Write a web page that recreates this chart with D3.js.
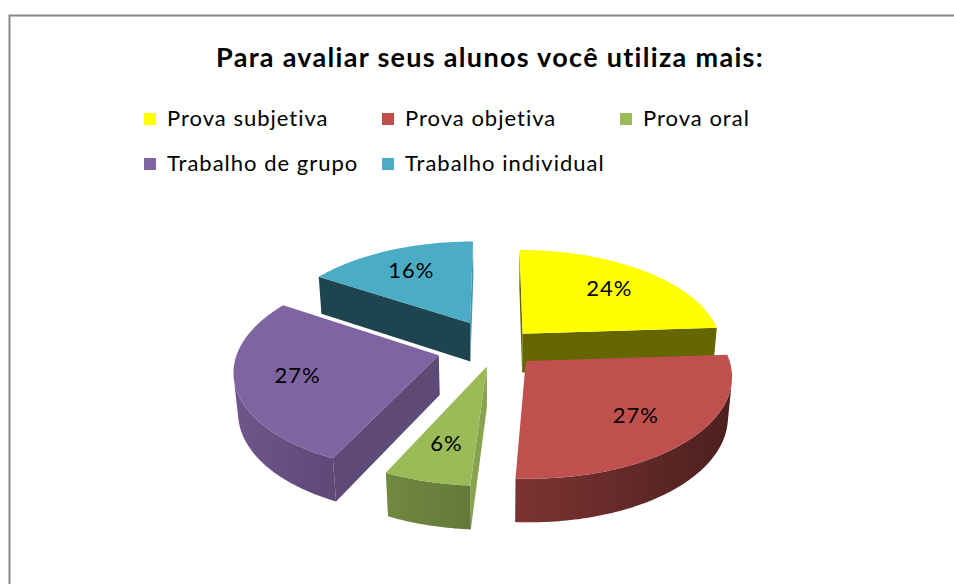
<!DOCTYPE html>
<html>
<head>
<meta charset="utf-8">
<script src="https://cdn.jsdelivr.net/npm/d3@7"></script>
<style>
  body { margin: 0; background: #fff; }
  svg { display: block; font-family: Lato, 'Open Sans', sans-serif; font-variant-ligatures: none; }
</style>
</head>
<body>
<svg id="chart" width="954" height="584"></svg>
<script>
const title = 'Para avaliar seus alunos você utiliza mais:';
const categories = ['Prova subjetiva', 'Prova objetiva', 'Prova oral', 'Trabalho de grupo', 'Trabalho individual'];
const values = [24, 27, 6, 27, 16];
const colors = ['#FFFF00', '#C0504D', '#9BBB59', '#8064A2', '#4BACC6'];

// 3d pie setup (Excel style tilted, exploded pie)
const cx = 497, cy = 347;
const radius = 200, thickness = 46;
const tilt = Math.asin(0.49);
const camDist = 1325;
const explode = [38, 40, 40, 60, 58];
const labelPos = 0.7;

const sinT = Math.sin(tilt), cosT = Math.cos(tilt);
const svg = d3.select('#chart');
const defs = svg.append('defs');

// u: right, v: towards the back, h: up
function project(u, v, h) {
  const s = camDist / (camDist + v * cosT - h * sinT);
  return [cx + s * u, cy - s * (v * sinT + h * cosT)];
}

function shade(color, k) {
  const c = d3.rgb(color);
  return d3.rgb(c.r * k, c.g * k, c.b * k).formatHex();
}

// cut faces are lit from the right, the round wall gets darker to the right
function faceLight(phi) {
  const c = Math.max(0, Math.cos(phi - 80 * Math.PI / 180));
  return 0.4 + 0.5 * c * c;
}
function wallLight(theta) {
  return 0.63 - 0.24 * Math.sin(theta);
}

function facing(nu, nv, pu, pv) {
  const camV = -camDist * cosT;
  return nu * (0 - pu) + nv * (camV - pv) > 0;
}

const pie = d3.pie().sort(null).value(d => d);
const line = d3.line();

const slices = pie(values).map((a, i) => {
  const mid = (a.startAngle + a.endAngle) / 2;
  const ou = explode[i] * Math.sin(mid);
  const ov = explode[i] * Math.cos(mid);
  const n = Math.max(2, Math.ceil((a.endAngle - a.startAngle) / (Math.PI / 180)));
  const angles = d3.range(n + 1).map(k => a.startAngle + (a.endAngle - a.startAngle) * k / n);
  const depth = ov + 0.6 * radius * Math.cos(mid);
  return { i, a, mid, ou, ov, angles, depth };
});

function rim(s, t, h) {
  return project(s.ou + radius * Math.sin(t), s.ov + radius * Math.cos(t), h);
}

function drawCut(g, s, t, phi) {
  const nu = Math.sin(phi), nv = Math.cos(phi);
  const pu = s.ou + radius / 2 * Math.sin(t), pv = s.ov + radius / 2 * Math.cos(t);
  if (!facing(nu, nv, pu, pv)) return;
  const pts = [
    project(s.ou, s.ov, 0), rim(s, t, 0),
    rim(s, t, -thickness), project(s.ou, s.ov, -thickness)
  ];
  g.append('path')
    .attr('d', line(pts) + 'Z')
    .attr('fill', shade(colors[s.i], faceLight(phi)));
}

function drawWall(g, s) {
  const vis = s.angles.filter(t => facing(Math.sin(t), Math.cos(t),
    s.ou + radius * Math.sin(t), s.ov + radius * Math.cos(t)));
  if (vis.length < 2) return;
  const top = vis.map(t => rim(s, t, 0));
  const bottom = vis.map(t => rim(s, t, -thickness)).reverse();
  const xs = top.map(p => p[0]);
  const iMin = d3.minIndex(xs), iMax = d3.maxIndex(xs);
  const id = 'wall' + s.i;
  const grad = defs.append('linearGradient')
    .attr('id', id)
    .attr('gradientUnits', 'userSpaceOnUse')
    .attr('x1', xs[iMin]).attr('x2', xs[iMax])
    .attr('y1', 0).attr('y2', 0);
  grad.append('stop').attr('offset', 0).attr('stop-color', shade(colors[s.i], wallLight(vis[iMin])));
  grad.append('stop').attr('offset', 1).attr('stop-color', shade(colors[s.i], wallLight(vis[iMax])));
  g.append('path')
    .attr('d', line(top.concat(bottom)) + 'Z')
    .attr('fill', `url(#${id})`);
}

const pieG = svg.append('g');
slices.slice().sort((p, q) => q.depth - p.depth).forEach(s => {
  const g = pieG.append('g');
  drawCut(g, s, s.a.startAngle, s.a.startAngle - Math.PI / 2);
  drawCut(g, s, s.a.endAngle, s.a.endAngle + Math.PI / 2);
  drawWall(g, s);
  const face = [project(s.ou, s.ov, 0)].concat(s.angles.map(t => rim(s, t, 0)));
  g.append('path')
    .attr('d', line(face) + 'Z')
    .attr('fill', colors[s.i]);
});

// percentage labels
const total = d3.sum(values);
const fmt = d3.format('.0%');
const labelXY = s => project(s.ou + labelPos * radius * Math.sin(s.mid), s.ov + labelPos * radius * Math.cos(s.mid), 0);
svg.append('g').selectAll('text')
  .data(slices)
  .join('text')
    .attr('x', s => labelXY(s)[0])
    .attr('y', s => labelXY(s)[1])
    .attr('text-anchor', 'middle')
    .attr('dy', '0.35em')
    .attr('font-size', 22)
    .attr('letter-spacing', 1)
    .attr('fill', '#000')
    .text(s => fmt(values[s.i] / total));

// title
svg.append('text')
  .attr('x', 490)
  .attr('y', 67)
  .attr('text-anchor', 'middle')
  .attr('font-size', 27)
  .attr('font-weight', 'bold')
  .attr('letter-spacing', 1.3)
  .attr('fill', '#000')
  .text(title);

// legend
const legend = svg.append('g').attr('transform', 'translate(144,113)');
const item = legend.selectAll('g')
  .data(categories)
  .join('g')
    .attr('transform', (d, i) => `translate(${(i % 3) * 238},${Math.floor(i / 3) * 45})`);
item.append('rect')
  .attr('width', 12).attr('height', 12)
  .attr('fill', (d, i) => colors[i]);
item.append('text')
  .attr('x', 23).attr('y', 13)
  .attr('font-size', 22)
  .attr('letter-spacing', 1)
  .attr('fill', '#000')
  .text(d => d);

// chart area border (runs off the page right and bottom)
svg.append('rect')
  .attr('x', 9.5).attr('y', 15.5)
  .attr('width', 1000).attr('height', 1000)
  .attr('fill', 'none')
  .attr('stroke', '#888')
  .attr('stroke-width', 2);
</script>
</body>
</html>
